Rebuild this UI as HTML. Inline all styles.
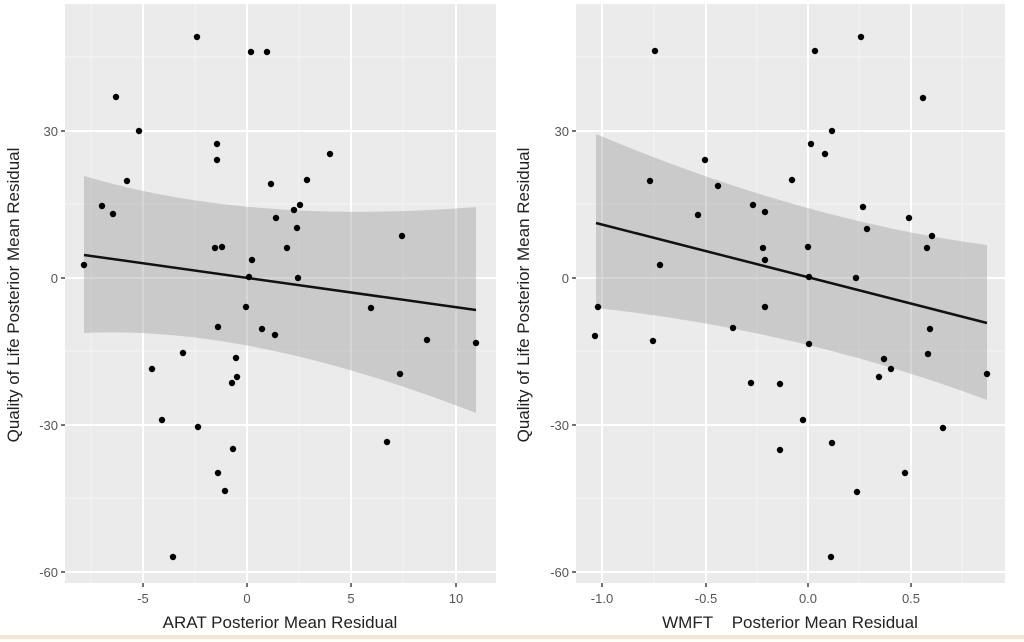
<!DOCTYPE html>
<html><head><style>body{margin:0;background:#fff}svg{display:block;font-family:"Liberation Sans",Arial,sans-serif}</style></head><body>
<svg width="1024" height="642" viewBox="0 0 1024 642">
<rect x="0" y="0" width="1024" height="642" fill="#fff"/>
<line x1="0" y1="637" x2="1024" y2="637" stroke="#f7e6cf" stroke-width="4"/>
<!-- LEFT PANEL -->
<rect x="65" y="4" width="431" height="579" fill="#ebebeb"/>
<g stroke="#f6f6f6" stroke-width="1">
<line x1="65" x2="496" y1="57" y2="57"/><line x1="65" x2="496" y1="204" y2="204"/><line x1="65" x2="496" y1="351" y2="351"/><line x1="65" x2="496" y1="498" y2="498"/>
<line y1="4" y2="583" x1="91" x2="91"/><line y1="4" y2="583" x1="195" x2="195"/><line y1="4" y2="583" x1="299" x2="299"/><line y1="4" y2="583" x1="403" x2="403"/>
</g>
<g stroke="#fff" stroke-width="2">
<line x1="65" x2="496" y1="131" y2="131"/><line x1="65" x2="496" y1="278" y2="278"/><line x1="65" x2="496" y1="425" y2="425"/><line x1="65" x2="496" y1="572" y2="572"/>
<line y1="4" y2="583" x1="143" x2="143"/><line y1="4" y2="583" x1="247" x2="247"/><line y1="4" y2="583" x1="351" x2="351"/><line y1="4" y2="583" x1="456" x2="456"/>
</g>
<path d="M84,176 Q250,225 476,207 L476,413 Q250,325 84,333 Z" fill="#999" fill-opacity="0.4"/>
<line x1="84" y1="255" x2="476" y2="310" stroke="#111" stroke-width="2.5"/>
<g fill="#000">
<circle cx="84" cy="265" r="3.2"/><circle cx="102" cy="206" r="3.2"/><circle cx="113" cy="214" r="3.2"/><circle cx="116" cy="97" r="3.2"/><circle cx="127" cy="181" r="3.2"/><circle cx="139" cy="131" r="3.2"/><circle cx="152" cy="369" r="3.2"/><circle cx="162" cy="420" r="3.2"/><circle cx="173" cy="557" r="3.2"/><circle cx="183" cy="353" r="3.2"/><circle cx="197" cy="37" r="3.2"/><circle cx="198" cy="427" r="3.2"/><circle cx="217" cy="160" r="3.2"/><circle cx="217" cy="144" r="3.2"/><circle cx="215" cy="248" r="3.2"/><circle cx="222" cy="247" r="3.2"/><circle cx="218" cy="327" r="3.2"/><circle cx="218" cy="473" r="3.2"/><circle cx="225" cy="491" r="3.2"/><circle cx="232" cy="383" r="3.2"/><circle cx="233" cy="449" r="3.2"/><circle cx="236" cy="358" r="3.2"/><circle cx="237" cy="377" r="3.2"/><circle cx="246" cy="307" r="3.2"/><circle cx="249" cy="277" r="3.2"/><circle cx="252" cy="260" r="3.2"/><circle cx="251" cy="52" r="3.2"/><circle cx="267" cy="52" r="3.2"/><circle cx="262" cy="329" r="3.2"/><circle cx="271" cy="184" r="3.2"/><circle cx="276" cy="218" r="3.2"/><circle cx="275" cy="335" r="3.2"/><circle cx="287" cy="248" r="3.2"/><circle cx="294" cy="210" r="3.2"/><circle cx="297" cy="228" r="3.2"/><circle cx="300" cy="205" r="3.2"/><circle cx="298" cy="278" r="3.2"/><circle cx="307" cy="180" r="3.2"/><circle cx="330" cy="154" r="3.2"/><circle cx="371" cy="308" r="3.2"/><circle cx="387" cy="442" r="3.2"/><circle cx="400" cy="374" r="3.2"/><circle cx="402" cy="236" r="3.2"/><circle cx="427" cy="340" r="3.2"/><circle cx="476" cy="343" r="3.2"/>
</g>
<g stroke="#444" stroke-width="1.5"><line x1="61" x2="65" y1="131" y2="131"/><line x1="61" x2="65" y1="278" y2="278"/><line x1="61" x2="65" y1="425" y2="425"/><line x1="61" x2="65" y1="572" y2="572"/>
<line x1="143" x2="143" y1="583" y2="587"/><line x1="247" x2="247" y1="583" y2="587"/><line x1="351" x2="351" y1="583" y2="587"/><line x1="456" x2="456" y1="583" y2="587"/></g>
<g fill="#555" font-size="13" text-anchor="end"><text x="58" y="136">30</text><text x="58" y="283">0</text><text x="58" y="430">-30</text><text x="58" y="577">-60</text></g>
<g fill="#555" font-size="13" text-anchor="middle"><text x="143" y="603">-5</text><text x="247" y="603">0</text><text x="351" y="603">5</text><text x="456" y="603">10</text></g>
<text x="280" y="628" font-size="17" fill="#222" text-anchor="middle">ARAT Posterior Mean Residual</text>
<text transform="translate(19,295) rotate(-90)" font-size="17" fill="#222" text-anchor="middle">Quality of Life Posterior Mean Residual</text>
<!-- RIGHT PANEL -->
<rect x="576" y="4" width="429" height="579" fill="#ebebeb"/>
<g stroke="#f6f6f6" stroke-width="1">
<line x1="576" x2="1005" y1="57" y2="57"/><line x1="576" x2="1005" y1="204" y2="204"/><line x1="576" x2="1005" y1="351" y2="351"/><line x1="576" x2="1005" y1="498" y2="498"/>
<line y1="4" y2="583" x1="654" x2="654"/><line y1="4" y2="583" x1="757" x2="757"/><line y1="4" y2="583" x1="859" x2="859"/><line y1="4" y2="583" x1="962" x2="962"/>
</g>
<g stroke="#fff" stroke-width="2">
<line x1="576" x2="1005" y1="131" y2="131"/><line x1="576" x2="1005" y1="278" y2="278"/><line x1="576" x2="1005" y1="425" y2="425"/><line x1="576" x2="1005" y1="572" y2="572"/>
<line y1="4" y2="583" x1="602" x2="602"/><line y1="4" y2="583" x1="706" x2="706"/><line y1="4" y2="583" x1="808" x2="808"/><line y1="4" y2="583" x1="911" x2="911"/>
</g>
<path d="M596,134 Q800,220 987,245 L987,400 Q800,330 596,308 Z" fill="#999" fill-opacity="0.4"/>
<line x1="596" y1="223" x2="987" y2="323" stroke="#111" stroke-width="2.5"/>
<g fill="#000">
<circle cx="595" cy="336" r="3.2"/><circle cx="598" cy="307" r="3.2"/><circle cx="655" cy="51" r="3.2"/><circle cx="650" cy="181" r="3.2"/><circle cx="653" cy="341" r="3.2"/><circle cx="660" cy="265" r="3.2"/><circle cx="698" cy="215" r="3.2"/><circle cx="705" cy="160" r="3.2"/><circle cx="718" cy="186" r="3.2"/><circle cx="733" cy="328" r="3.2"/><circle cx="751" cy="383" r="3.2"/><circle cx="753" cy="205" r="3.2"/>
<circle cx="815" cy="51" r="3.2"/><circle cx="861" cy="37" r="3.2"/><circle cx="831" cy="557" r="3.2"/>
<circle cx="923" cy="98" r="3.2"/><circle cx="832" cy="131" r="3.2"/><circle cx="811" cy="144" r="3.2"/><circle cx="825" cy="154" r="3.2"/><circle cx="792" cy="180" r="3.2"/><circle cx="765" cy="212" r="3.2"/><circle cx="763" cy="248" r="3.2"/><circle cx="765" cy="260" r="3.2"/><circle cx="808" cy="247" r="3.2"/><circle cx="809" cy="277" r="3.2"/><circle cx="856" cy="278" r="3.2"/><circle cx="863" cy="207" r="3.2"/><circle cx="867" cy="229" r="3.2"/><circle cx="909" cy="218" r="3.2"/><circle cx="932" cy="236" r="3.2"/><circle cx="927" cy="248" r="3.2"/><circle cx="765" cy="307" r="3.2"/><circle cx="809" cy="344" r="3.2"/><circle cx="930" cy="329" r="3.2"/><circle cx="928" cy="354" r="3.2"/><circle cx="884" cy="359" r="3.2"/><circle cx="891" cy="369" r="3.2"/><circle cx="879" cy="377" r="3.2"/><circle cx="987" cy="374" r="3.2"/><circle cx="780" cy="384" r="3.2"/><circle cx="803" cy="420" r="3.2"/><circle cx="943" cy="428" r="3.2"/><circle cx="832" cy="443" r="3.2"/><circle cx="780" cy="450" r="3.2"/><circle cx="905" cy="473" r="3.2"/><circle cx="857" cy="492" r="3.2"/>
</g>
<g stroke="#444" stroke-width="1.5"><line x1="572" x2="576" y1="131" y2="131"/><line x1="572" x2="576" y1="278" y2="278"/><line x1="572" x2="576" y1="425" y2="425"/><line x1="572" x2="576" y1="572" y2="572"/>
<line x1="602" x2="602" y1="583" y2="587"/><line x1="706" x2="706" y1="583" y2="587"/><line x1="808" x2="808" y1="583" y2="587"/><line x1="911" x2="911" y1="583" y2="587"/></g>
<g fill="#555" font-size="13" text-anchor="end"><text x="569" y="136">30</text><text x="569" y="283">0</text><text x="569" y="430">-30</text><text x="569" y="577">-60</text></g>
<g fill="#555" font-size="13" text-anchor="middle"><text x="602" y="603">-1.0</text><text x="706" y="603">-0.5</text><text x="808" y="603">0.0</text><text x="911" y="603">0.5</text></g>
<text x="790" y="628" font-size="17" fill="#222" text-anchor="middle" xml:space="preserve">WMFT    Posterior Mean Residual</text>
<text transform="translate(529,295) rotate(-90)" font-size="17" fill="#222" text-anchor="middle">Quality of Life Posterior Mean Residual</text>
</svg>
</body></html>
